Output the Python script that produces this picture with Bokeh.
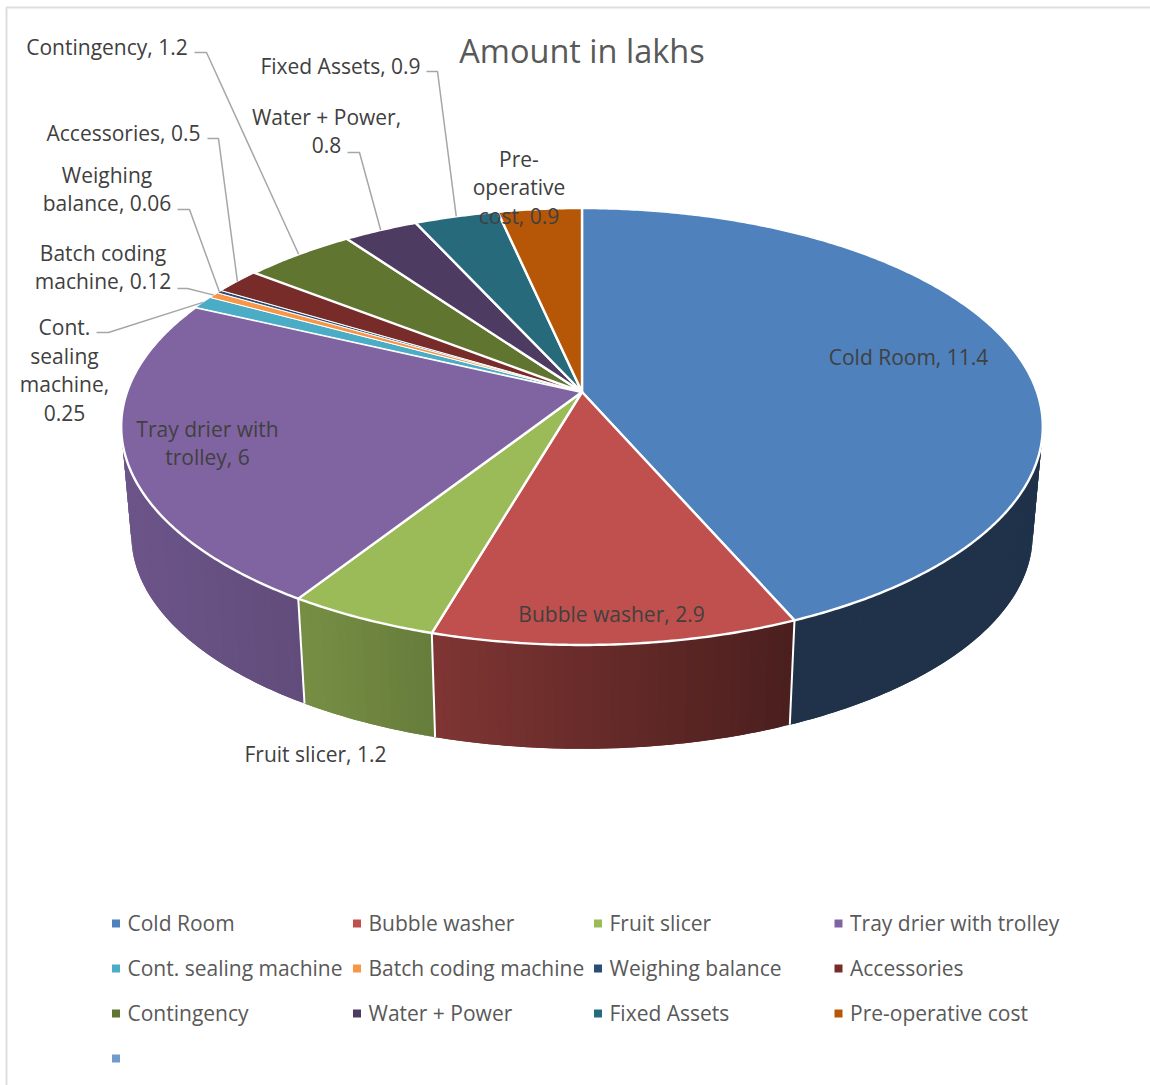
import numpy as np
from bokeh.core.properties import value
from bokeh.embed import file_html
from bokeh.models import Range1d
from bokeh.plotting import figure
from bokeh.resources import INLINE

# Budget items, amounts in lakhs, clockwise from twelve o'clock
categories = ["Cold Room", "Bubble washer", "Fruit slicer", "Tray drier with trolley",
              "Cont. sealing machine", "Batch coding machine", "Weighing balance", "Accessories",
              "Contingency", "Water + Power", "Fixed Assets", "Pre-operative cost", ""]
amounts = [11.4, 2.9, 1.2, 6, 0.25, 0.12, 0.06, 0.5, 1.2, 0.8, 0.9, 0.9, 0]
colors = ["#4F81BD", "#C0504D", "#9BBB59", "#8064A2", "#4BACC6", "#F79646", "#2C4D75", "#772C2A",
          "#5F7530", "#4D3B62", "#276A7C", "#B65708", "#729ACA"]

FONT = "Open Sans"
W, H = 1150, 1085

# Perspective disc: apex position, half-axes and foreshortening of the top face
APEX_X, APEX_Y = 581.5, 391.5
AX, BY, K = 455, 213, 0.158
# The base of the cylinder sits lower and slightly further from the viewer
BASE_SCALE, BASE_DROP = 0.978, 109.4


def rim(theta, scale=1.0, drop=0.0):
    """Project an angle (clockwise from the far point) onto the disc edge."""
    u, v = np.sin(theta), np.cos(theta)
    w = 1 + K * v
    return APEX_X + scale * AX * u / w, APEX_Y + drop - scale * BY * v / w


def shade(x):
    """Lighting factor across the side wall, brighter to the left."""
    return np.interp(x, [130, 304, 435, 790], [0.84, 0.76, 0.66, 0.39])


def scaled(hex_color, factor):
    r, g, b = (int(hex_color[i:i + 2], 16) for i in (1, 3, 5))
    return "#%02X%02X%02X" % (round(r * factor), round(g * factor), round(b * factor))


p = figure(width=W, height=H, x_range=Range1d(0, W), y_range=Range1d(H, 0),
           x_axis_type=None, y_axis_type=None, output_backend="svg",
           toolbar_location=None, min_border=0, outline_line_color=None,
           background_fill_color="white", border_fill_color="white")
p.grid.visible = False

# Sheet border, visible along the top and left
p.line([6, 6, W], [H, 7, 7], line_color="#DEDEDE", line_width=2)

total = sum(amounts)
edges = np.radians(np.cumsum([0] + amounts) / total * 360)
mids = (edges[:-1] + edges[1:]) / 2

# Side wall, built from overlapping strips so the shading can vary along it
# without hairline gaps; each strip is painted over the tail of the one before
strip_xs, strip_ys, strip_colors = [], [], []
lo, hi = np.radians(85), np.radians(275)
for i in range(len(amounts)):
    a, b = max(edges[i], lo), min(edges[i + 1], hi)
    if b <= a:
        continue
    n = max(int(np.degrees(b - a) / 1.0), 1)
    ts = np.linspace(a, b, n + 1)
    step = ts[1] - ts[0]
    for t0 in ts[:-1]:
        span = np.linspace(t0, min(t0 + 2 * step, b), 4)
        tx, ty = rim(span)
        bx, by = rim(span[::-1], BASE_SCALE, BASE_DROP)
        strip_xs.append([*tx, *bx])
        strip_ys.append([*ty, *by])
        strip_colors.append(scaled(colors[i], float(shade(rim(t0 + step / 2)[0]))))
p.patches(strip_xs, strip_ys, fill_color=strip_colors, line_color=None)

# White seams between wall segments
for e in edges[1:]:
    if lo < e < hi:
        x0, y0 = rim(e)
        x1, y1 = rim(e, BASE_SCALE, BASE_DROP)
        p.line([x0, x1], [y0, y1], line_color="white", line_width=2)

# Top face of every slice; the slimmest slices get a finer outline so they stay visible
for i in range(len(amounts)):
    if amounts[i] == 0:
        continue
    ts = np.linspace(edges[i], edges[i + 1], max(int(np.degrees(edges[i + 1] - edges[i])) * 2, 3))
    xs, ys = rim(ts)
    p.patch([APEX_X, *xs], [APEX_Y, *ys], fill_color=colors[i], line_color="white",
            line_width=2.4 if amounts[i] >= 0.6 else 1.0, line_join="round")

# Leader lines: label end, elbow, then the rim at the slice's mid angle
leaders = {4: [(96, 332), (108, 332)], 5: [(177, 288), (187, 288)], 6: [(177, 209), (189, 209)],
           7: [(207, 138), (218, 138)], 8: [(194, 52), (206, 52)], 9: [(347, 152), (359, 152)],
           10: [(426, 71), (437, 71)]}
for i, pts in leaders.items():
    ex, ey = rim(mids[i])
    p.line([q[0] for q in pts] + [ex], [q[1] for q in pts] + [ey], line_color="#A6A6A6", line_width=1.5)

# Data labels: "name, amount", wrapped the way the chart wraps them
label_text = {0: "Cold Room, 11.4", 1: "Bubble washer, 2.9", 2: "Fruit slicer, 1.2",
              3: "Tray drier with\ntrolley, 6", 4: "Cont.\nsealing\nmachine,\n0.25",
              5: "Batch coding\nmachine, 0.12", 6: "Weighing\nbalance, 0.06", 7: "Accessories, 0.5",
              8: "Contingency, 1.2", 9: "Water + Power,\n0.8", 10: "Fixed Assets, 0.9",
              11: "Pre-\noperative\ncost, 0.9"}
label_pos = {0: (908, 356.5), 1: (611, 613.5), 2: (315, 753.5), 3: (207, 442.5), 4: (64, 369.5),
             5: (102.5, 266.5), 6: (106.5, 188.5), 7: (123, 132.5), 8: (106.5, 46.5), 9: (326, 130.5),
             10: (340, 65.5), 11: (518.5, 187)}
for i, txt in label_text.items():
    x, y = label_pos[i]
    p.text([x], [y], text=[txt], text_font=value(FONT), text_font_size="21px", text_color="#404040",
           text_align="center", text_baseline="middle", text_line_height=1.03)

p.text([581.5], [50], text=["Amount in lakhs"], text_font=value(FONT), text_font_size="32.5px",
       text_color="#595959", text_align="center", text_baseline="middle")

# Legend grid: four columns, filled row by row
col_x = [115.5, 356.5, 597.5, 838]
row_y = [923, 968, 1013, 1058]
for i, name in enumerate(categories):
    cx, cy = col_x[i % 4], row_y[i // 4]
    p.scatter([cx], [cy], marker="square", size=8, fill_color=colors[i], line_color=None)
    if name:
        p.text([cx + 11.5], [cy - 0.5], text=[name], text_font=value(FONT), text_font_size="21px",
               text_color="#595959", text_align="left", text_baseline="middle")

open("out.html", "w").write(file_html(p, INLINE))
